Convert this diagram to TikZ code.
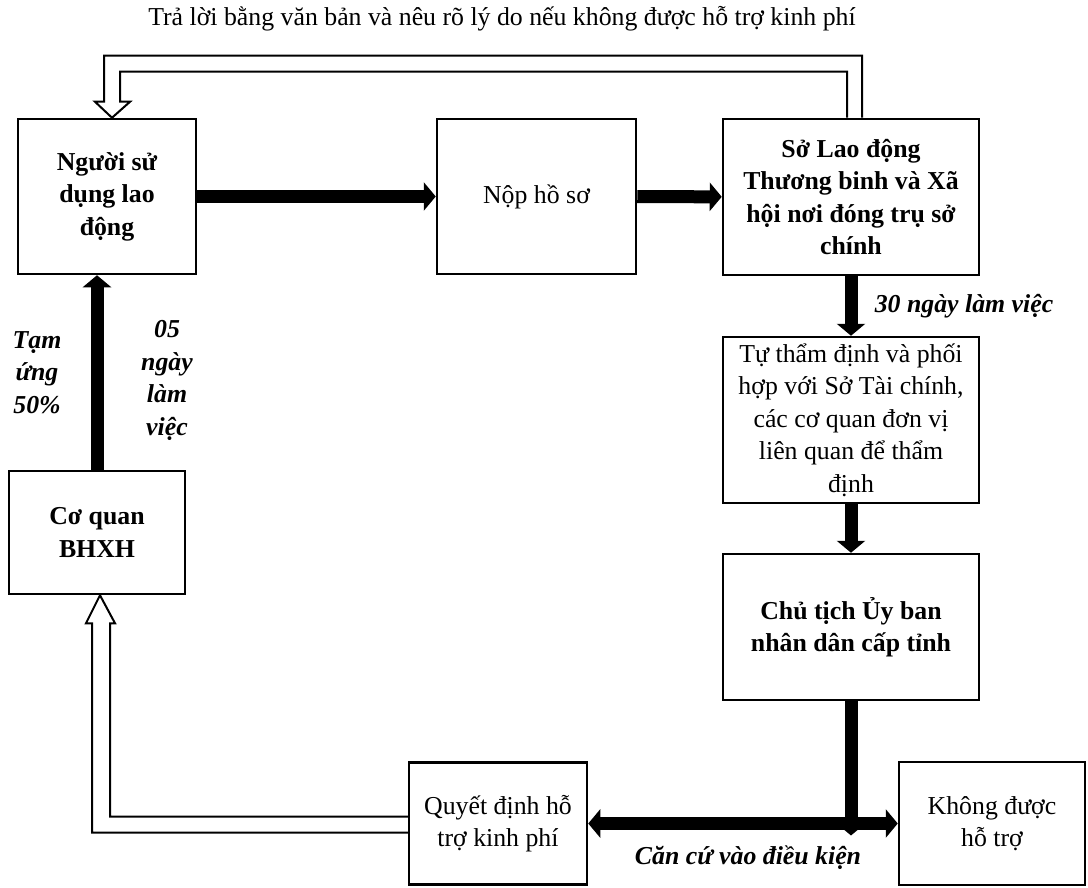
\documentclass[tikz,border=0pt]{standalone}
\usepackage{fontspec}
\setmainfont{Liberation Serif}
\usetikzlibrary{arrows.meta,calc}
\newcommand\bodyfont{\fontsize{25.8}{32.5}\selectfont}
\begin{document}
\begin{tikzpicture}[x=1pt,y=-1pt,line join=miter,>={Triangle[width=28pt,length=12pt]},
    box/.style={draw,line width=2.5pt,align=center,inner sep=0pt,font=\bodyfont},
    boldbox/.style={box,font=\bodyfont\bfseries},
    flow/.style={line width=13pt,->},
    flowboth/.style={line width=13pt,<->},
    hollow/.style={line width=2pt},
    lbl/.style={align=center,font=\bodyfont\bfseries\itshape}]
\useasboundingbox (0,0) rectangle (1088,888);
\node[boldbox,minimum width=178pt,minimum height=155pt] (nguoi) at (107,196.5) {Người sử\\dụng lao\\động};
\node[box,minimum width=199pt,minimum height=155pt] (nop) at (536.5,196.5) {Nộp hồ sơ};
\node[boldbox,minimum width=256pt,minimum height=156pt] (sld) at (851,197) {Sở Lao động\\Thương binh và Xã\\hội nơi đóng trụ sở\\chính};
\node[box,minimum width=256pt,minimum height=166pt] (tham) at (851,420) {Tự thẩm định và phối\\hợp với Sở Tài chính,\\các cơ quan đơn vị\\liên quan để thẩm\\định};
\node[boldbox,minimum width=256pt,minimum height=146pt] (chutich) at (851,627) {Chủ tịch Ủy ban\\nhân dân cấp tỉnh};
\node[box,minimum width=178pt,minimum height=122pt] (quyet) at (498,823.5) {Quyết định hỗ\\trợ kinh phí};
\node[box,minimum width=186pt,minimum height=123pt] (khong) at (992,823.5) {Không được\\hỗ trợ};
\node[boldbox,minimum width=176pt,minimum height=123pt] (bhxh) at (97,532.5) {Cơ quan\\BHXH};
\node[font=\bodyfont] (traloi) at (502,19) {Trả lời bằng văn bản và nêu rõ lý do nếu không được hỗ trợ kinh phí};
\coordinate (junc) at (chutich.south |- quyet.east);
\draw[flow] (nguoi) -- (nop);
\draw[flow] (nop) -- (sld);
\draw[flow] (sld) -- node[lbl,right=14pt] (ngay30) {30 ngày làm việc} (tham);
\draw[flow] (tham) -- (chutich);
\draw[flow] (bhxh.north) -- (bhxh.north |- nguoi.south)
    node[lbl,midway,xshift=-60pt] (tamung) {Tạm\\ứng\\50\%}
    node[lbl,midway,xshift=70pt,yshift=-8pt] (ngay05) {05\\ngày\\làm\\việc};
\draw[flow] (chutich) -- ($(junc)+(0,12)$);
\draw[flowboth] (junc -| quyet.east) -- (junc -| khong.west)
    node[lbl,midway,xshift=5pt,yshift=-34pt] (cancu) {Căn cứ vào điều kiện};
%\draw[hollow] (sld.north) |- (nguoi.north);
\draw[hollow] ($(sld.north)+(11,0)$) -- ++(0,-62) -| ($(nguoi.north)+(-3,-16)$) -- ++(-9,0)
    -- ($(nguoi.north)+(5,0)$) -- ++(18,-16) -- ++(-10,0) |- ($(sld.north)+(-4,-46)$) -- ($(sld.north)+(-4,0)$);
\draw[hollow] ($(quyet.west)+(0,9)$) -| ($(bhxh.south)+(-5,28)$) -- ++(-6,0)
    -- ($(bhxh.south)+(3,0)$) -- ++(15,28) -- ++(-5,0) |- ($(quyet.west)+(0,-7)$);
\end{tikzpicture}
\end{document}
